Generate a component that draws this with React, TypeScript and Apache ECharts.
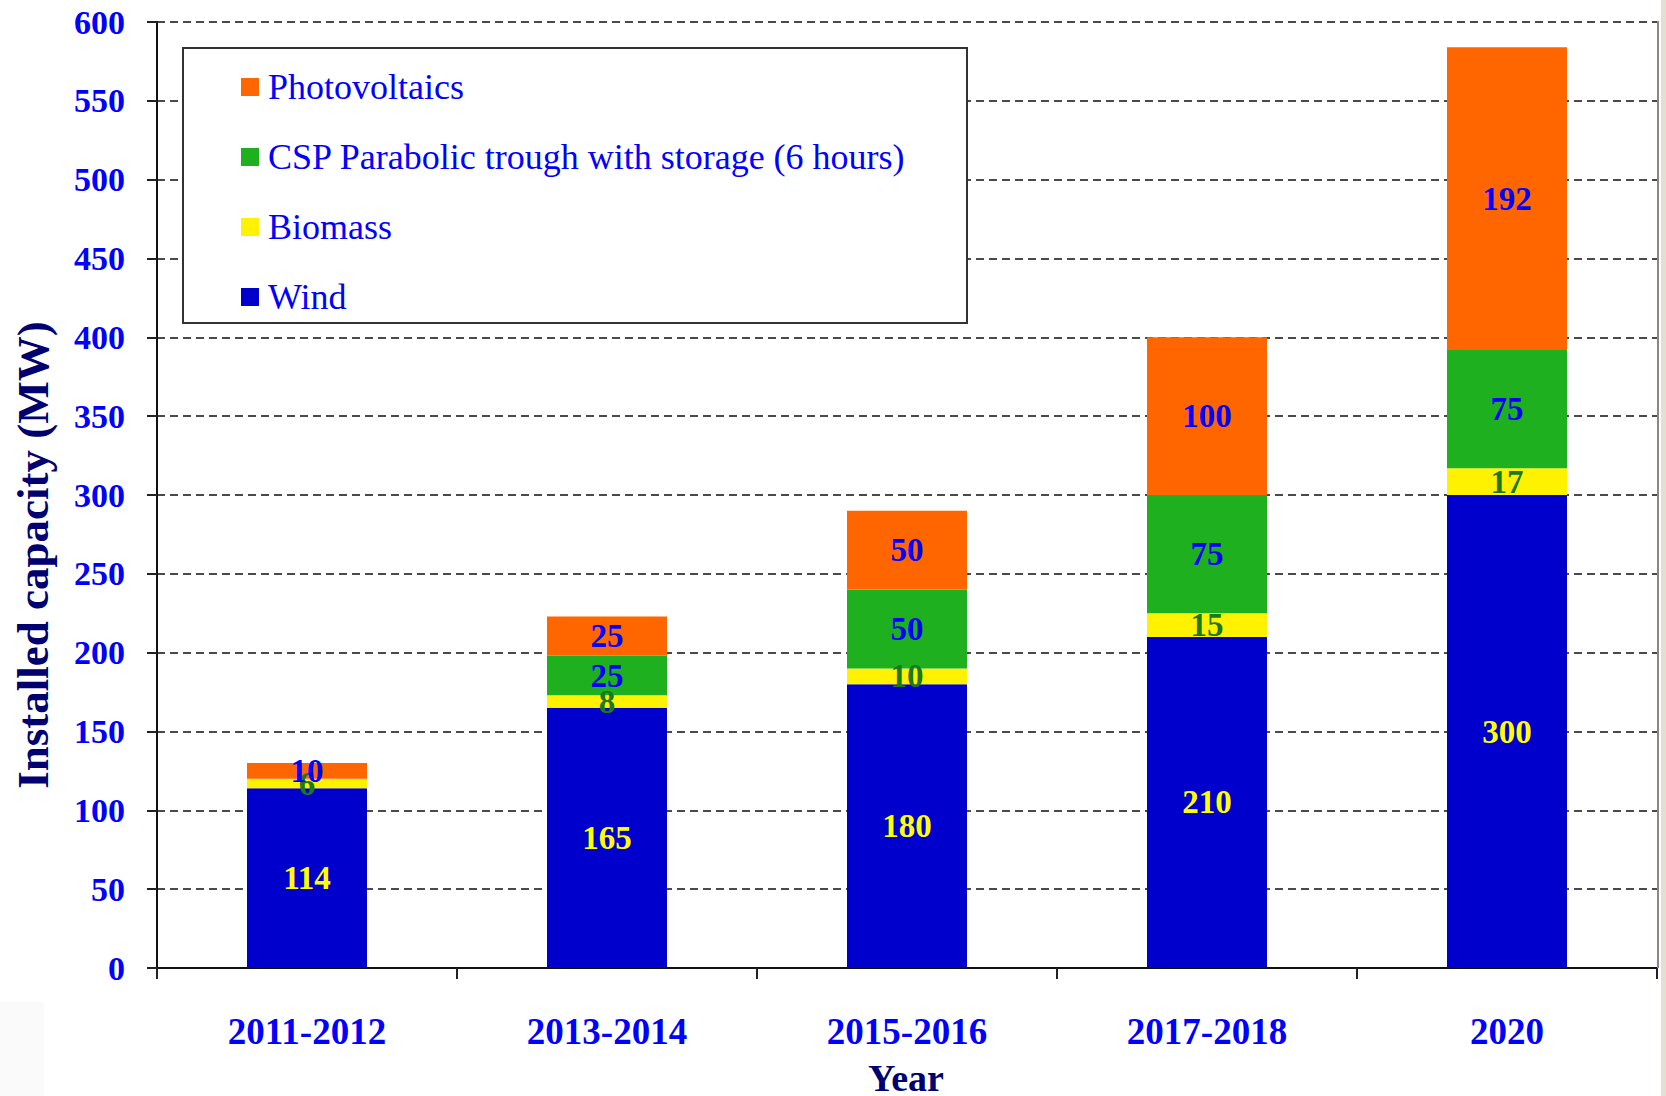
import React, { useEffect, useRef } from "react";
import * as echarts from "echarts";

const categories = ["2011-2012", "2013-2014", "2015-2016", "2017-2018", "2020"];
const windValues = [114, 165, 180, 210, 300];
const biomassValues = [6, 8, 10, 15, 17];
const cspValues = [0, 25, 50, 75, 75];
const pvValues = [10, 25, 50, 100, 192];
const yTicks = { min: 0, max: 600, interval: 50 };

const SERIF = "'Liberation Serif', 'Times New Roman', serif";

export default function App() {
  const ref = useRef<HTMLDivElement>(null);
  useEffect(() => {
    document.body.style.margin = "0";
    const chart = echarts.init(ref.current!, null, { renderer: "svg" });
    const labelFmt = (p: any) => (p.value === 0 ? "" : String(p.value));
    const mkSeries = (name: string, data: number[], color: string, labelColor: string) => ({
      name,
      type: "bar",
      stack: "total",
      data,
      barWidth: "40%",
      itemStyle: { color },
      label: {
        show: true,
        position: "inside",
        formatter: labelFmt,
        color: labelColor,
        fontFamily: SERIF,
        fontWeight: "bold",
        fontSize: 33,
      },
    });
    chart.setOption({
      animation: false,
      backgroundColor: "#ffffff",
      grid: { left: 157, right: 9, top: 22, bottom: 128, containLabel: false },
      xAxis: {
        type: "category",
        data: categories,
        axisLine: { lineStyle: { color: "#111", width: 2 } },
        axisTick: { show: true, length: 11, lineStyle: { color: "#222", width: 2 } },
        axisLabel: {
          color: "#0000ff",
          fontFamily: SERIF,
          fontWeight: "bold",
          fontSize: 37,
          margin: 45,
        },
      },
      yAxis: {
        type: "value",
        min: yTicks.min,
        max: yTicks.max,
        interval: yTicks.interval,
        axisLine: { show: true, lineStyle: { color: "#111", width: 2 } },
        axisTick: { show: true, length: 10, lineStyle: { color: "#222", width: 2 } },
        axisLabel: {
          color: "#0000ff",
          fontFamily: SERIF,
          fontWeight: "bold",
          fontSize: 34,
          margin: 32,
        },
        splitLine: {
          show: true,
          lineStyle: { color: "#4a4a4a", width: 2, type: [8, 5] },
        },
      },
      legend: {
        orient: "vertical",
        left: 236,
        top: 64,
        itemGap: 34,
        itemWidth: 18,
        itemHeight: 18,
        icon: "rect",
        z: 10,
        data: [
          "Photovoltaics",
          "CSP Parabolic trough with storage (6 hours)",
          "Biomass",
          "Wind",
        ],
        textStyle: {
          color: "#0000ff",
          fontFamily: SERIF,
          fontSize: 36,
          padding: [7, 0, 0, 4],
        },
      },
      graphic: [
        {
          type: "rect",
          z: 5,
          shape: { x: 183, y: 48, width: 784, height: 275 },
          style: { fill: "#ffffff", stroke: "#333", lineWidth: 2 },
        },
        {
          type: "line",
          z: 5,
          shape: { x1: 1658, y1: 21, x2: 1658, y2: 968 },
          style: { stroke: "#888", lineWidth: 2 },
        },
        {
          type: "rect",
          z: 5,
          shape: { x: 1661, y: 0, width: 5, height: 1096 },
          style: { fill: "#e4dfd3" },
        },
        {
          type: "rect",
          z: 1,
          shape: { x: 0, y: 1002, width: 44, height: 94 },
          style: { fill: "#fafafa" },
        },
        {
          type: "text",
          z: 5,
          x: 33,
          y: 555,
          rotation: Math.PI / 2,
          style: {
            text: "Installed capacity (MW)",
            fill: "#000070",
            font: `bold 45px ${SERIF}`,
            align: "center",
            verticalAlign: "middle",
          },
        },
        {
          type: "text",
          z: 5,
          x: 906,
          y: 1078,
          style: {
            text: "Year",
            fill: "#000070",
            font: `bold 38px ${SERIF}`,
            align: "center",
            verticalAlign: "middle",
          },
        },
      ],
      series: [
        mkSeries("Wind", windValues, "#0000cc", "#ffff00"),
        mkSeries("Biomass", biomassValues, "#fff200", "#1a7a1a"),
        mkSeries("CSP Parabolic trough with storage (6 hours)", cspValues, "#1fb01f", "#0000ff"),
        mkSeries("Photovoltaics", pvValues, "#ff6600", "#0000ff"),
      ],
    });
    return () => chart.dispose();
  }, []);
  return <div ref={ref} style={{ width: 1666, height: 1096 }} />;
}
